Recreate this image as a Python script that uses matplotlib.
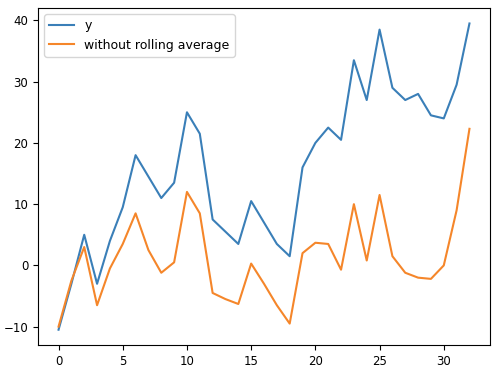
import matplotlib.pyplot as plt
import numpy as np

x = np.arange(33)
y = [-10.5, -3, 5, -3, 4, 9.5, 18, 14.5, 11, 13.5, 25, 21.5, 7.5, 5.5, 3.5,
     10.5, 7, 3.5, 1.5, 16, 20, 22.5, 20.5, 33.5, 27, 38.5, 29, 27, 28, 24.5,
     24, 29.5, 39.5]
y_raw = [-10, -2.5, 3, -6.5, -0.5, 3.5, 8.5, 2.5, -1.2, 0.5, 12, 8.5, -4.5,
         -5.5, -6.3, 0.3, -3, -6.5, -9.5, 2, 3.7, 3.5, -0.7, 10, 0.8, 11.5,
         1.5, -1.2, -2, -2.2, 0, 9, 22.3]

fig, ax = plt.subplots(figsize=(5, 3.71), dpi=100)
ax.plot(x, y, label="y", color="#3a7fb8")
ax.plot(x, y_raw, label="without rolling average", color="#f5862a")
ax.legend(loc="upper left", fontsize=9)
ax.tick_params(labelsize=8.5)
plt.subplots_adjust(left=0.076, right=0.98, top=0.978, bottom=0.07)
plt.savefig("out.png")
